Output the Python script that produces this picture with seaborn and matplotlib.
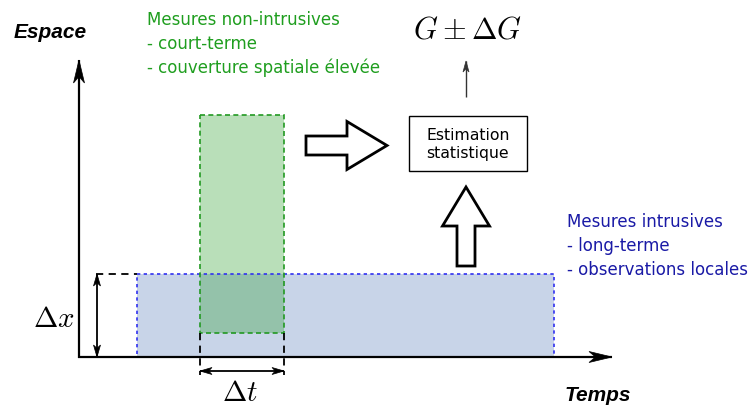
import numpy as np
import matplotlib.pyplot as plt
import matplotlib.patches as mpatches
import seaborn as sns

# diagram layout in pixel units (x to the right, y downwards)
axis_origin = (79, 358)
axis_ends = (612, 61)
green_box = [200, 116, 284, 334]   # x0, y0, x1, y1 -- non-intrusive measurements
blue_box = [137, 275, 554, 358]    # intrusive measurements
estim_box = [409, 117, 527, 172]

green_lines = ["Mesures non-intrusives", "- court-terme", "- couverture spatiale élevée"]
blue_lines = ["Mesures intrusives", "- long-terme", "- observations locales"]

sns.set_theme(style="white")
plt.rcParams["mathtext.fontset"] = "cm"
plt.rcParams["text.color"] = "black"

fig = plt.figure(figsize=(7.53, 4.10), dpi=100)
ax = fig.add_axes([0, 0, 1, 1])
ax.set_xlim(0, 753)
ax.set_ylim(410, 0)
ax.axis("off")


def rect(box, **kw):
    x0, y0, x1, y1 = box
    ax.add_patch(mpatches.Rectangle((x0, y0), x1 - x0, y1 - y0, **kw))


def stealth(tip, direction, length, width, color="black", z=6):
    d = np.array(direction, float)
    d /= np.linalg.norm(d)
    n = np.array([-d[1], d[0]])
    t = np.array(tip, float)
    pts = [t, t - length * d + width / 2 * n, t - 0.72 * length * d, t - length * d - width / 2 * n]
    ax.add_patch(mpatches.Polygon(pts, closed=True, fc=color, ec=color, lw=0.5, zorder=z))


def line_arrow(start, end, lw=1.5, length=20, width=10, color="black", both=False):
    ax.plot([start[0], end[0]], [start[1], end[1]], color=color, lw=lw, zorder=5,
            solid_capstyle="butt")
    d = np.subtract(end, start)
    stealth(end, d, length, width, color)
    if both:
        stealth(start, -d, length, width, color)


# blue region (filled) then green on top with transparency
rect(blue_box, facecolor="#c8d4e8", edgecolor="none", zorder=1)
rect(green_box, facecolor="#2ca02c", alpha=0.33, edgecolor="none", zorder=2)
rect(blue_box, facecolor="none", edgecolor="#3030f0", lw=1.2, ls=(0, (2, 2)), zorder=3)
rect(green_box, facecolor="none", edgecolor="#229922", lw=1.2, ls=(0, (3, 2)), zorder=3)

# axes
ox, oy = axis_origin
line_arrow((ox, oy + 0.7), (ox, axis_ends[1]), lw=1.6, length=23, width=11)
line_arrow((ox - 0.7, oy), (axis_ends[0], oy), lw=1.6, length=23, width=11)
ax.text(14, 32, "Espace", fontsize=15, fontweight="bold", fontstyle="italic",
        family="Liberation Sans", va="center", ha="left")
ax.text(565, 396, "Temps", fontsize=15, fontweight="bold", fontstyle="italic",
        family="Liberation Sans", va="center", ha="left")

# dimension lines
dash = dict(color="black", lw=1.3, ls=(0, (4, 3)), zorder=4)
ax.plot([96, blue_box[0]], [blue_box[1], blue_box[1]], **dash)
ax.plot([green_box[0], green_box[0]], [green_box[3], 376], **dash)
ax.plot([green_box[2], green_box[2]], [green_box[3], 376], **dash)
line_arrow((97, blue_box[3]), (97, blue_box[1]), lw=1.3, length=12, width=7, both=True)
line_arrow((green_box[0], 372), (green_box[2], 372), lw=1.3, length=12, width=7, both=True)
ax.text(54, 319, r"$\Delta x$", fontsize=21, ha="center", va="center")
ax.text(240, 393, r"$\Delta t$", fontsize=21, ha="center", va="center")

# hollow arrows
ax.add_patch(mpatches.FancyArrow(306, 146.5, 81, 0, width=19, head_width=48, head_length=40,
                                 length_includes_head=True, fc="white", ec="black", lw=2, zorder=5))
ax.add_patch(mpatches.FancyArrow(466, 267, 0, -79, width=18, head_width=47, head_length=39,
                                 length_includes_head=True, fc="white", ec="black", lw=2, zorder=5))

# estimation box
rect(estim_box, facecolor="white", edgecolor="black", lw=1.0, zorder=5)
ax.text((estim_box[0] + estim_box[2]) / 2, (estim_box[1] + estim_box[3]) / 2,
        "Estimation\nstatistique", fontsize=11.3, ha="center", va="center",
        linespacing=1.2, zorder=6)
line_arrow((466, 98), (466, 62), lw=1.0, length=11, width=6, color="#333333")
ax.text(468, 30, r"$G \pm \Delta G$", fontsize=22, ha="center", va="center")

# annotations
for i, line in enumerate(green_lines):
    ax.text(147, 20 + 24 * i, line, fontsize=12, color="#1f9e1f", va="center", ha="left")
for i, line in enumerate(blue_lines):
    ax.text(567, 222 + 24 * i, line, fontsize=12, color="#1a1aa6", va="center", ha="left")

fig.savefig("out.png", dpi=100)
